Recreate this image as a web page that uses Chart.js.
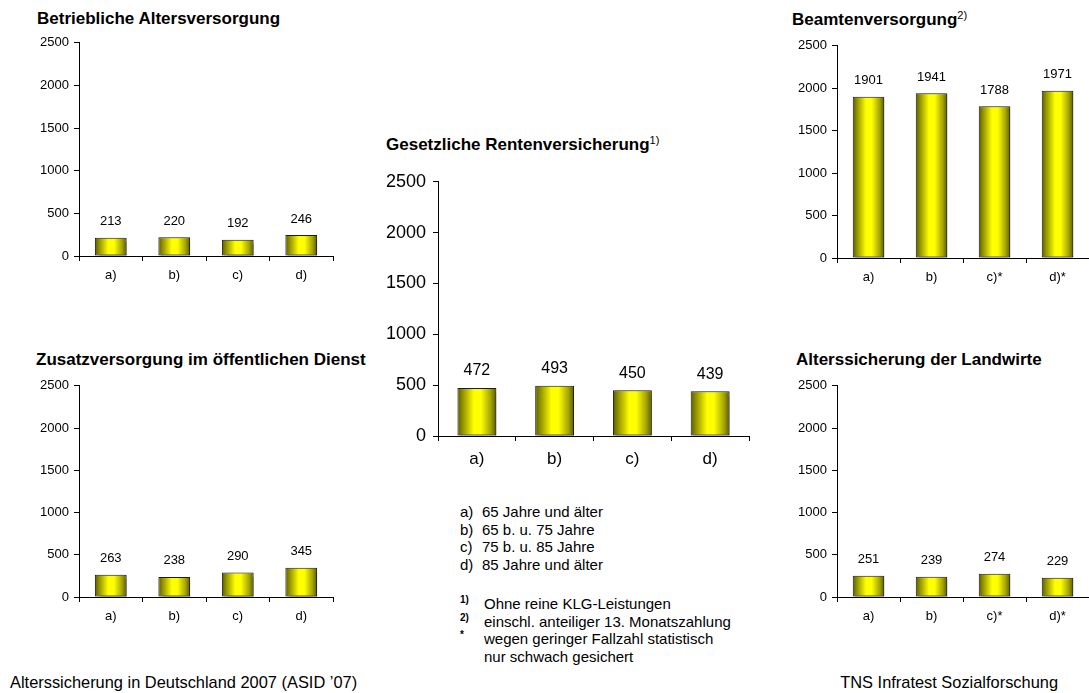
<!DOCTYPE html>
<html lang="de">
<head>
<meta charset="utf-8">
<title>Alterssicherung in Deutschland 2007</title>
<script src="https://cdn.jsdelivr.net/npm/chart.js@4/dist/chart.umd.min.js"></script>
<style>
  html, body { margin: 0; padding: 0; background: #fff; overflow: hidden; }
  body { width: 1089px; height: 693px; position: relative; font-family: 'Liberation Sans', Arial, sans-serif; color: #000; }
  .box { position: absolute; }
  .title { position: absolute; font-weight: bold; font-size: 17px; line-height: 20px; white-space: nowrap; }
  .title sup { font-weight: normal; font-size: 11px; line-height: 0; vertical-align: 6px; }
  .txt { position: absolute; white-space: nowrap; }
  .leg { position: absolute; font-size: 15px; line-height: 17.7px; white-space: nowrap; }
  .leg .k { position: absolute; left: 0; }
  .leg .v { position: absolute; left: 22px; }
  .fn .k { font-size: 10px; font-weight: bold; top: -4px; }
  .fn .v { left: 24px; }
</style>
</head>
<body>

<div class="title" style="left:37px; top:9px;">Betriebliche Altersversorgung</div>
<div class="title" style="left:36px; top:350px;">Zusatzversorgung im öffentlichen Dienst</div>
<div class="title" style="left:386px; top:135px;">Gesetzliche Rentenversicherung<sup>1)</sup></div>
<div class="title" style="left:792px; top:10px;">Beamtenversorgung<sup>2)</sup></div>
<div class="title" style="left:796px; top:350px;">Alterssicherung der Landwirte</div>

<div class="box" id="b1"><canvas id="c1"></canvas></div>
<div class="box" id="b2"><canvas id="c2"></canvas></div>
<div class="box" id="b3"><canvas id="c3"></canvas></div>
<div class="box" id="b4"><canvas id="c4"></canvas></div>
<div class="box" id="b5"><canvas id="c5"></canvas></div>

<div id="legend"></div>

<div class="txt" style="left:10px; top:673px; font-size:16.4px;">Alterssicherung in Deutschland 2007 (ASID ’07)</div>
<div class="txt" style="right:31px; top:673px; font-size:16.4px;">TNS Infratest Sozialforschung</div>

<script>
// --- data ---
const categories = ['a)', 'b)', 'c)', 'd)'];
const categoriesStar = ['a)', 'b)', 'c)*', 'd)*'];
const betrieblich = [213, 220, 192, 246];
const zusatz = [263, 238, 290, 345];
const gesetzlich = [472, 493, 450, 439];
const beamte = [1901, 1941, 1788, 1971];
const landwirte = [251, 239, 274, 229];
const yMax = 2500;
const yStep = 500;

const legendKeys = ['a)', 'b)', 'c)', 'd)'];
const legendTexts = ['65 Jahre und älter', '65 b. u. 75 Jahre', '75 b. u. 85 Jahre', '85 Jahre und älter'];
const noteKeys = ['1)', '2)', '*', ''];
const noteTexts = ['Ohne reine KLG-Leistungen', 'einschl. anteiliger 13. Monatszahlung',
                   'wegen geringer Fallzahl statistisch', 'nur schwach gesichert'];

const FONT = "'Liberation Sans', Arial, sans-serif";

// legend + footnotes
(function () {
    const host = document.getElementById('legend');
    legendKeys.forEach((k, i) => {
        const d = document.createElement('div');
        d.className = 'leg';
        d.style.left = '460px';
        d.style.top = (503 + i * 17.7) + 'px';
        d.innerHTML = '<span class="k">' + k + '</span><span class="v">' + legendTexts[i] + '</span>';
        host.appendChild(d);
    });
    noteTexts.forEach((t, i) => {
        const d = document.createElement('div');
        d.className = 'leg fn';
        d.style.left = '460px';
        d.style.top = (595 + i * 17.7) + 'px';
        d.innerHTML = '<span class="k">' + noteKeys[i] + '</span><span class="v">' + t + '</span>';
        host.appendChild(d);
    });
})();

// value labels above bars
const valueLabels = {
    id: 'valueLabels',
    afterDatasetsDraw(chart, args, opts) {
        const ctx = chart.ctx;
        const meta = chart.getDatasetMeta(0);
        const data = chart.data.datasets[0].data;
        ctx.save();
        ctx.fillStyle = '#000';
        ctx.font = opts.size + 'px ' + FONT;
        ctx.textAlign = 'center';
        ctx.textBaseline = 'middle';
        meta.data.forEach((el, i) => {
            ctx.fillText(String(data[i]), el.x, el.y - opts.offset);
        });
        ctx.restore();
    }
};

// soft shadow behind bars
const barShadow = {
    id: 'barShadow',
    beforeDatasetsDraw(chart) {
        const ctx = chart.ctx;
        ctx.save();
        ctx.shadowColor = 'rgba(0,0,0,0.35)';
        ctx.shadowOffsetX = 2;
        ctx.shadowOffsetY = 1;
        ctx.shadowBlur = 1;
    },
    afterDatasetsDraw(chart) {
        chart.ctx.restore();
    }
};

function barGradient(c) {
    const chart = c.chart;
    const xs = chart.scales && chart.scales.x;
    if (!xs || c.type !== 'data') return '#ffff00';
    const n = chart.data.labels.length;
    const cx = xs.getPixelForValue(c.dataIndex);
    const half = xs.width / n * 0.5 / 2;
    if (!isFinite(cx) || !isFinite(half) || half <= 0) return '#ffff00';
    const g = chart.ctx.createLinearGradient(cx - half, 0, cx + half, 0);
    g.addColorStop(0, '#5a5a00');
    g.addColorStop(0.12, '#8c8c00');
    g.addColorStop(0.42, '#ffff00');
    g.addColorStop(0.6, '#ffff00');
    g.addColorStop(0.85, '#a6a600');
    g.addColorStop(1, '#5a5a00');
    return g;
}

function makeChart(n, labels, values, area, st) {
    const padTop = 10, padRight = area.right >= 1089 ? 0 : 2;
    const box = document.getElementById('b' + n);
    box.style.left = (area.left - st.yW) + 'px';
    box.style.top = (area.top - padTop) + 'px';
    box.style.width = (st.yW + area.right - area.left + padRight) + 'px';
    box.style.height = (padTop + area.bottom - area.top + st.xH) + 'px';

    new Chart(document.getElementById('c' + n), {
        type: 'bar',
        data: {
            labels: labels,
            datasets: [{
                data: values,
                backgroundColor: barGradient,
                borderColor: '#1a1a1a',
                borderWidth: 1,
                borderSkipped: false,
                barPercentage: 0.5,
                categoryPercentage: 1.0
            }]
        },
        options: {
            responsive: true,
            maintainAspectRatio: false,
            animation: false,
            events: [],
            layout: { padding: { top: padTop, right: padRight, left: 0, bottom: 0 } },
            plugins: {
                legend: { display: false },
                tooltip: { enabled: false },
                valueLabels: { size: st.valSize, offset: st.valOffset }
            },
            scales: {
                x: {
                    offset: true,
                    grid: { offset: true, drawOnChartArea: false, drawTicks: true, tickLength: 5, color: '#000' },
                    border: { color: '#000', width: 1 },
                    ticks: { color: '#000', font: { family: FONT, size: st.catSize }, padding: st.catPad, maxRotation: 0 },
                    afterFit: s => { s.height = st.xH; }
                },
                y: {
                    min: 0,
                    max: yMax,
                    grid: { drawOnChartArea: false, drawTicks: true, tickLength: 5, color: '#000' },
                    border: { color: '#000', width: 1 },
                    ticks: {
                        stepSize: yStep,
                        color: '#000',
                        font: { family: FONT, size: st.tickSize },
                        padding: st.tickPad,
                        callback: v => String(v)
                    },
                    afterFit: s => { s.width = st.yW; }
                }
            }
        },
        plugins: [barShadow, valueLabels]
    });
}

const small = { yW: 48, xH: 32, tickSize: 13, tickPad: 5, catSize: 13, catPad: 7, valSize: 13, valOffset: 16 };
const big = { yW: 62, xH: 40, tickSize: 18, tickPad: 7, catSize: 17, catPad: 8, valSize: 16, valOffset: 17 };

makeChart(1, categories, betrieblich, { left: 79, top: 40, right: 333, bottom: 256 }, small);
makeChart(2, categories, zusatz, { left: 79, top: 383, right: 333, bottom: 597 }, small);
makeChart(3, categories, gesetzlich, { left: 438, top: 174, right: 749, bottom: 436 }, big);
makeChart(4, categoriesStar, beamte, { left: 837, top: 43, right: 1089, bottom: 258 }, small);
makeChart(5, categoriesStar, landwirte, { left: 837, top: 383, right: 1089, bottom: 597 }, small);
</script>
</body>
</html>
